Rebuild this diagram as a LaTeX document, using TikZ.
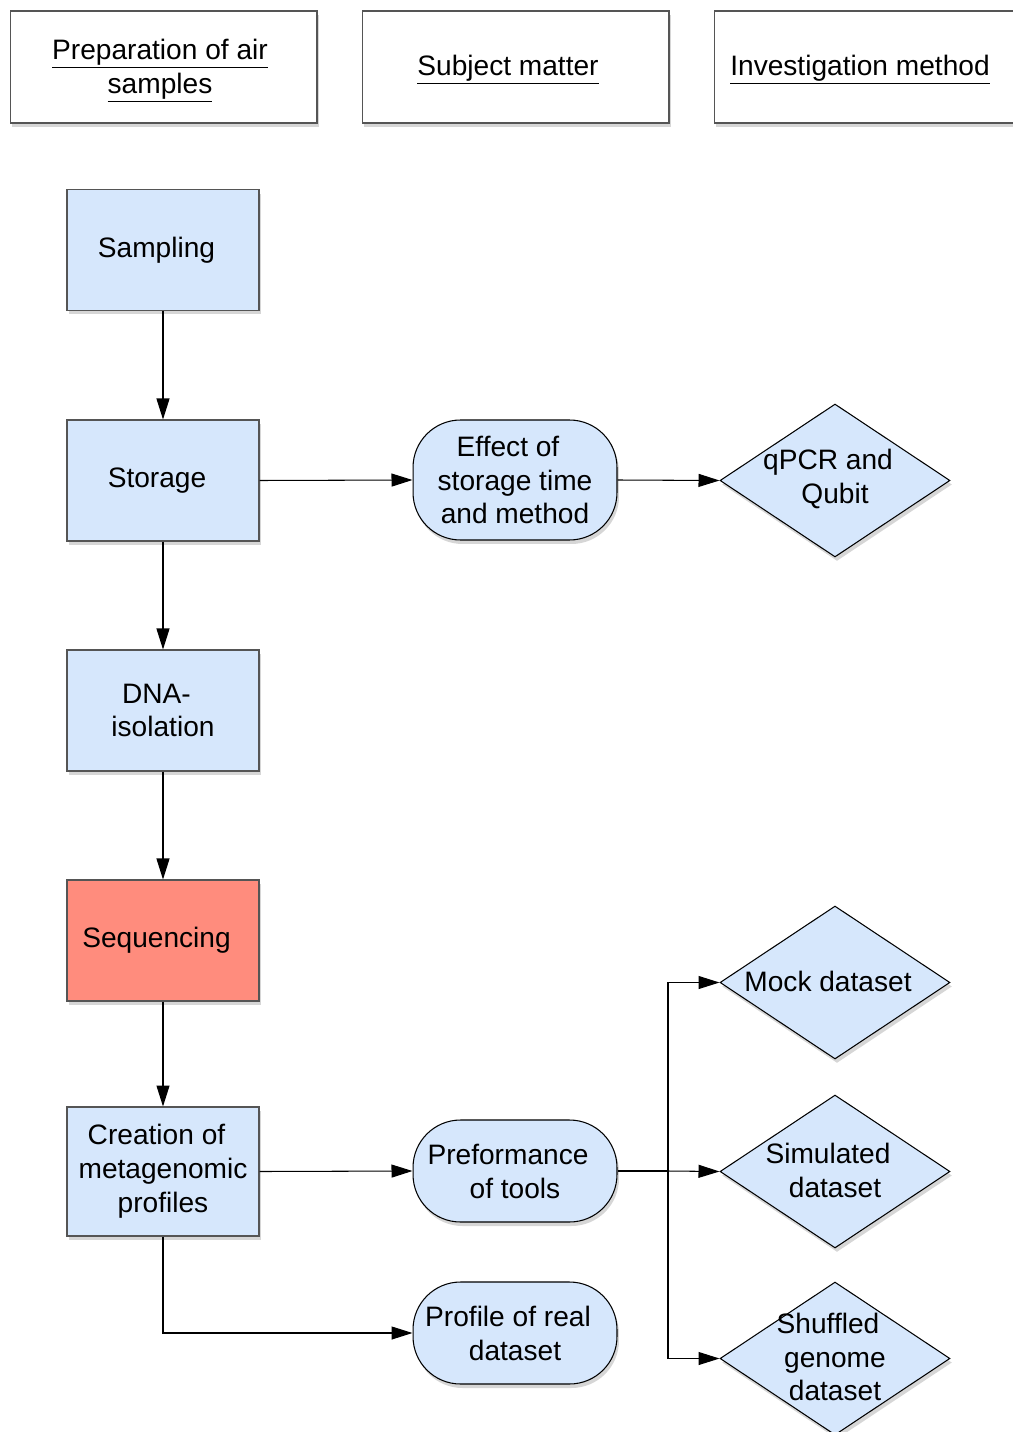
\documentclass[tikz,border=0pt]{standalone}
\usepackage{fontspec}
\setmainfont{Liberation Sans}
\usetikzlibrary{shapes.geometric,arrows.meta,shadows}
\definecolor{boxblue}{RGB}{214,231,252}
\definecolor{seqred}{RGB}{255,140,125}
\definecolor{edgegray}{RGB}{85,85,85}
\newcommand{\ulx}[1]{\underline{#1}}
\begin{document}
\begin{tikzpicture}[x=0.02cm,y=-0.02cm,
  every node/.style={font=\fontsize{16}{19.3}\selectfont, text=black},
  shad/.style={drop shadow={shadow xshift=0.04cm, shadow yshift=-0.08cm, opacity=0.16, fill=black}},
  header/.style={draw=edgegray, line width=0.6pt, fill=white, minimum width=6.14cm, minimum height=2.24cm, shad, align=center, inner sep=0pt},
  procbox/.style={draw=edgegray, line width=0.6pt, fill=boxblue, minimum width=3.84cm, minimum height=2.42cm, shad, align=center, inner sep=0pt},
  pill/.style={draw=black, line width=0.6pt, fill=boxblue, rounded corners=0.95cm, minimum width=4.08cm, align=center, inner sep=0pt, shad},
  dia/.style={draw=black, line width=0.6pt, fill=boxblue, diamond, minimum width=4.6cm, minimum height=3.06cm, inner sep=0pt, shad},
  plain/.style={align=center, inner sep=0pt},
  conn/.style={draw=black, line width=0.6pt, -{Triangle[length=0.42cm,width=0.26cm]}},
  wire/.style={draw=black, line width=0.6pt}
]
\useasboundingbox (0,0) rectangle (1013,1432);

% headers
\node[header] (h1) at (163.5,67) {};
\node[plain] (h1t) at (160,71) {\ulx{Preparation of air}\\\ulx{samples}};
\node[header] (h2) at (515.5,67) {};
\node[plain] (h2t) at (508,70) {\ulx{Subject matter}};
\node[header] (h3) at (867.5,67) {};
\node[plain] (h3t) at (860,70) {\ulx{Investigation method}};

% left column
\node[procbox] (samp) at (163,250) {Sampling\hspace*{0.26cm}};
\node[procbox] (stor) at (163,480.5) {Storage\hspace*{0.24cm}};
\node[procbox] (dna) at (163,710.5) {DNA-\hspace*{0.26cm}\\isolation};
\node[procbox, fill=seqred] (seq) at (163,940.5) {Sequencing\hspace*{0.26cm}};
\node[procbox, minimum height=2.58cm] (crea) at (163,1171.5) {Creation of\hspace*{0.26cm}\\metagenomic\\profiles};

% middle column
\node[pill, minimum height=2.4cm] (eff) at (515,480) {Effect of\hspace*{0.28cm}\\storage time\\and method};
\node[pill, minimum height=2.04cm] (perf) at (515,1171) {Preformance\hspace*{0.28cm}\\of tools};
\node[pill, minimum height=2.04cm] (prof) at (515,1333) {Profile of real\hspace*{0.28cm}\\dataset};

% right column diamonds
\node[dia] (qpcr) at (835,480.5) {};
\node[plain] (qpcrT) at (835,479) {qPCR and\hspace*{0.28cm}\\Qubit};
\node[dia] (mock) at (835,982.5) {};
\node[plain] (mockT) at (835,981) {Mock dataset\hspace*{0.28cm}};
\node[dia] (sim) at (835,1171.5) {};
\node[plain] (simT) at (835,1170) {Simulated\hspace*{0.28cm}\\dataset};
\node[dia] (shuf) at (835,1358.5) {};
\node[plain] (shufT) at (835,1357) {Shuffled\hspace*{0.28cm}\\genome\\dataset};

% connectors
\draw[conn] (samp.south) -- (stor.north);
\draw[conn] (stor.south) -- (dna.north);
\draw[conn] (dna.south) -- (seq.north);
\draw[conn] (seq.south) -- (crea.north);
\draw[conn] (stor.east) -- (eff.west);
\draw[conn] (eff.east) -- (qpcr.west);
\draw[conn] (crea.east) -- (perf.west);
\draw[conn] (crea.south) |- (prof.west);
\coordinate (jn) at (668,1171);
\draw[wire] (perf.east) -- (jn);
\draw[conn] (jn) |- (mock.west);
\draw[conn] (jn) -- (sim.west);
\draw[conn] (jn) |- (shuf.west);
\end{tikzpicture}
\end{document}
